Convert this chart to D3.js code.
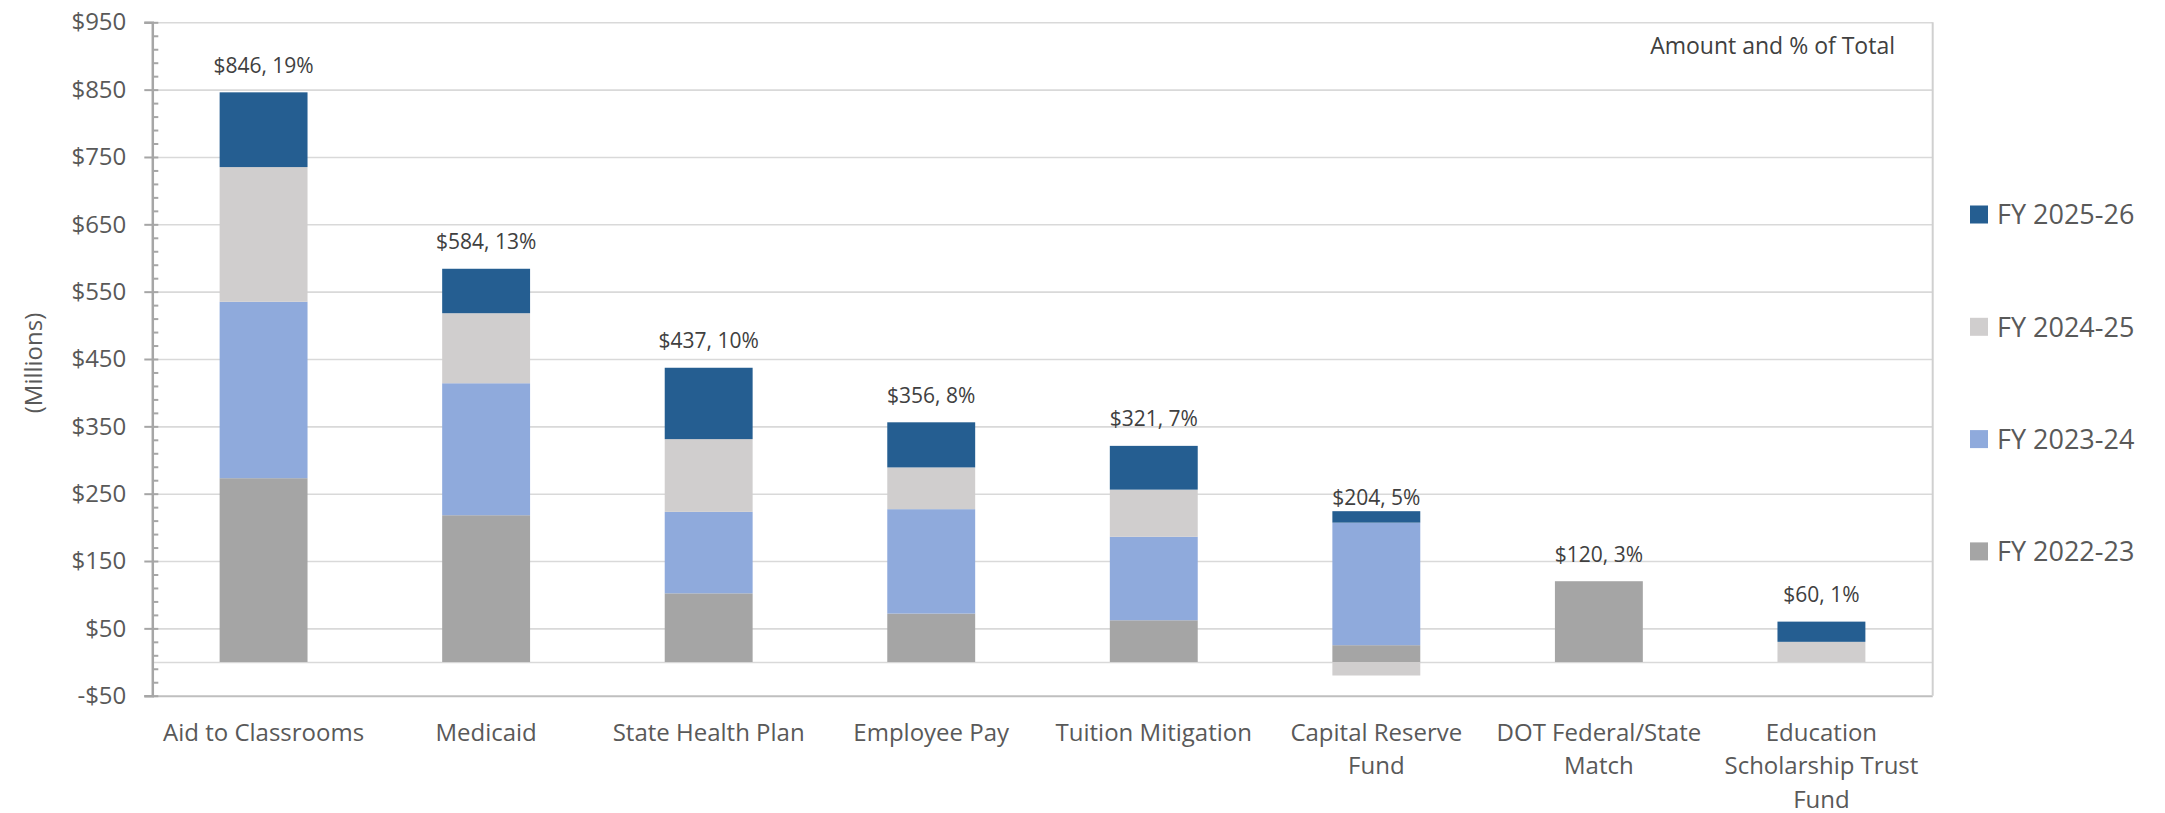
<!DOCTYPE html>
<html>
<head>
<meta charset="utf-8">
<script src="https://cdn.jsdelivr.net/npm/d3@7"></script>
<style>
  html, body { margin: 0; padding: 0; background: #ffffff; }
  svg { display: block; }
  text { font-family: "Open Sans", "Noto Sans", sans-serif; }
</style>
</head>
<body>
<svg id="chart" width="2165" height="813"></svg>
<script>
// ---- data ----
const categories = ["Aid to Classrooms", "Medicaid", "State Health Plan", "Employee Pay",
  "Tuition Mitigation", "Capital Reserve Fund", "DOT Federal/State Match", "Education Scholarship Trust Fund"];
const categoryLines = [["Aid to Classrooms"], ["Medicaid"], ["State Health Plan"], ["Employee Pay"],
  ["Tuition Mitigation"], ["Capital Reserve", "Fund"], ["DOT Federal/State", "Match"], ["Education", "Scholarship Trust", "Fund"]];
const seriesNames = ["FY 2022-23", "FY 2023-24", "FY 2024-25", "FY 2025-26"];
const fy2223 = [273, 218, 102, 72, 62, 25, 120, 0];
const fy2324 = [262, 196, 121, 155, 124, 182, 0, 0];
const fy2425 = [200, 104, 108, 62, 70, -20, 0, 30];
const fy2526 = [111, 66, 106, 67, 65, 17, 0, 30];
const totals = [846, 584, 437, 356, 321, 204, 120, 60];
const percents = [19, 13, 10, 8, 7, 5, 3, 1];
const yTickValues = [-50, 50, 150, 250, 350, 450, 550, 650, 750, 850, 950];
const colors = ["#A5A5A5", "#8FAADC", "#D0CECE", "#255E91"];
const legendOrder = ["FY 2025-26", "FY 2024-25", "FY 2023-24", "FY 2022-23"];

// ---- layout ----
const svg = d3.select("#chart");
const plotLeft = 152.3, plotRight = 1932.7, plotTop = 22.3, plotBottom = 695.7;
const textColor = "#595959";

const x = d3.scaleBand().domain(categories).range([plotLeft, plotRight]).paddingInner(0).paddingOuter(0);
const y = d3.scaleLinear().domain([-50, 950]).range([plotBottom, plotTop]);
const barW = x.bandwidth() * 0.395;

const rows = categories.map((c, i) => ({
  cat: c,
  "FY 2022-23": fy2223[i], "FY 2023-24": fy2324[i], "FY 2024-25": fy2425[i], "FY 2025-26": fy2526[i]
}));
const stacked = d3.stack().keys(seriesNames).offset(d3.stackOffsetDiverging)(rows);
const color = d3.scaleOrdinal().domain(seriesNames).range(colors);

// gridlines
const grid = svg.append("g").attr("transform", `translate(${plotLeft},0)`)
  .call(d3.axisLeft(y).tickValues(yTickValues.concat([0])).tickSize(-(plotRight - plotLeft)).tickFormat(""));
grid.select(".domain").remove();
grid.selectAll("line").attr("stroke", "#D9D9D9").attr("stroke-width", 1.6);
grid.selectAll(".tick").filter(d => d === -50).select("line").attr("stroke", "#BFBFBF").attr("stroke-width", 2);

// plot border (right side)
svg.append("line").attr("x1", plotRight).attr("x2", plotRight).attr("y1", y(950)).attr("y2", y(-50))
  .attr("stroke", "#D0D0D0").attr("stroke-width", 2);

// bars
svg.append("g").selectAll("g").data(stacked).join("g")
  .attr("fill", d => color(d.key))
  .selectAll("rect").data(d => d).join("rect")
  .attr("x", d => x(d.data.cat) + (x.bandwidth() - barW) / 2)
  .attr("width", barW)
  .attr("y", d => y(Math.max(d[0], d[1])))
  .attr("height", d => Math.abs(y(d[0]) - y(d[1])));

// y axis: major ticks crossing the axis
const yAxis = svg.append("g").attr("transform", `translate(${plotLeft},0)`)
  .call(d3.axisLeft(y).tickValues(yTickValues).tickSize(8).tickPadding(18)
    .tickFormat(v => v < 0 ? "-$" + Math.abs(v) : "$" + v));
yAxis.select(".domain").attr("stroke", "#A6A6A6").attr("stroke-width", 2.5);
yAxis.selectAll(".tick line").attr("stroke", "#A6A6A6").attr("stroke-width", 2).attr("x2", -8).attr("x1", 6);
yAxis.selectAll(".tick text").attr("fill", textColor).attr("font-size", 24)
  .attr("font-family", "'Open Sans', sans-serif");

// minor ticks inside
const minorVals = d3.range(-50, 951, 20).filter(v => !yTickValues.includes(v));
const minor = svg.append("g").attr("transform", `translate(${plotLeft},0)`)
  .call(d3.axisRight(y).tickValues(minorVals).tickSize(6).tickFormat(""));
minor.select(".domain").remove();
minor.selectAll("line").attr("stroke", "#A6A6A6").attr("stroke-width", 2);

// y axis title
svg.append("text").attr("transform", `translate(32,363) rotate(-90)`)
  .attr("text-anchor", "middle").attr("dominant-baseline", "central")
  .attr("font-size", 24).attr("fill", textColor).text("(Millions)");

// category labels
const catG = svg.append("g");
categories.forEach((c, i) => {
  const t = catG.append("text").attr("x", x(c) + x.bandwidth() / 2).attr("y", 732)
    .attr("text-anchor", "middle").attr("font-size", 24).attr("fill", textColor);
  categoryLines[i].forEach((line, j) => {
    t.append("tspan").attr("x", x(c) + x.bandwidth() / 2).attr("y", 732 + j * 33.8)
      .attr("dy", "0.36em").text(line);
  });
});

// data labels
svg.append("g").selectAll("text").data(categories).join("text")
  .attr("x", d => x(d) + x.bandwidth() / 2)
  .attr("y", (d, i) => y(totals[i]) - 27)
  .attr("dy", "0.36em")
  .attr("text-anchor", "middle").attr("font-size", 21).attr("fill", "#404040")
  .text((d, i) => `$${totals[i]}, ${percents[i]}%`);

// annotation
svg.append("text").attr("x", 1895).attr("y", 46).attr("dy", "0.36em")
  .attr("text-anchor", "end").attr("font-size", 23).attr("fill", "#404040")
  .text("Amount and % of Total");

// legend
const leg = svg.append("g").selectAll("g").data(legendOrder).join("g")
  .attr("transform", (d, i) => `translate(1970,${214.5 + i * 112.3})`);
leg.append("rect").attr("x", 0).attr("y", -9).attr("width", 18).attr("height", 18)
  .attr("fill", d => color(d));
leg.append("text").attr("x", 27).attr("y", 0).attr("dy", "0.36em")
  .attr("font-size", 27).attr("fill", textColor).text(d => d);
</script>
</body>
</html>
